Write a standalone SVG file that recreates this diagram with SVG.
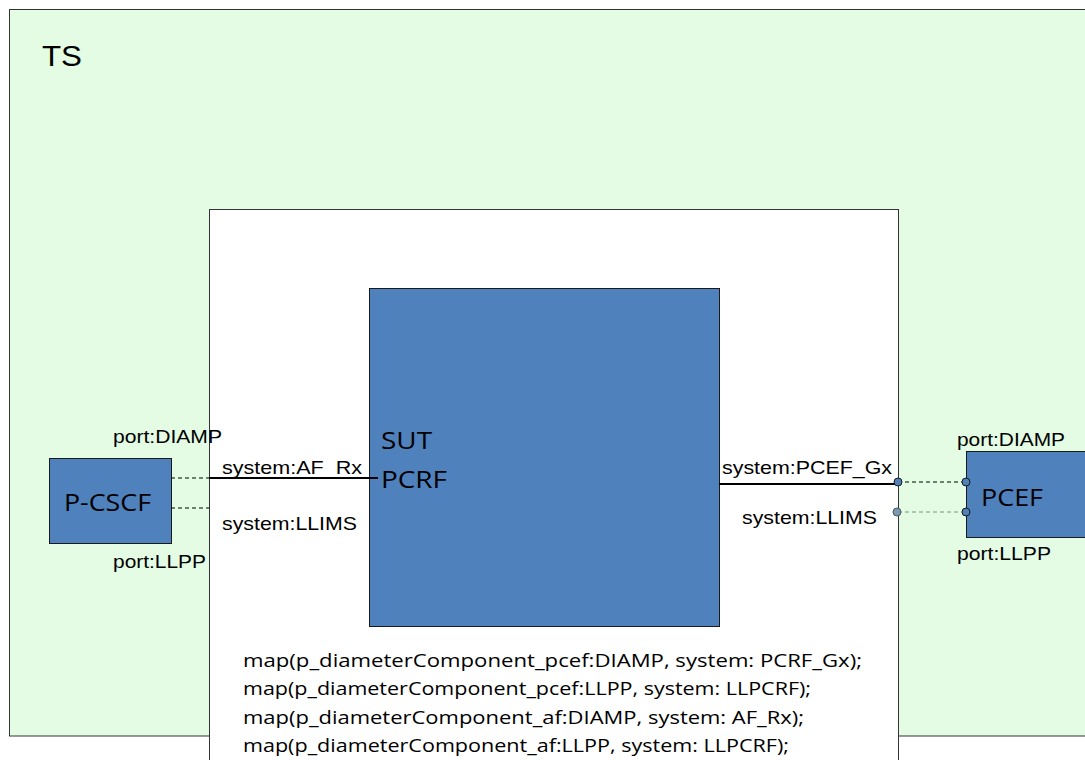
<svg xmlns="http://www.w3.org/2000/svg" width="1085" height="760" viewBox="0 0 1085 760">
<style>
.lbl{font-family:"Liberation Sans",Arial,sans-serif;font-size:19px;fill:#000}
.nm{font-family:"Open Sans","Liberation Sans",sans-serif;font-size:24px;fill:#000}
.map{font-family:"Open Sans","Liberation Sans",sans-serif;font-size:19px;fill:#000}
.blue{fill:#4F81BD;stroke:#1a1a1a;stroke-width:1}
.dash{stroke:#000;stroke-width:1;stroke-dasharray:4,3;fill:none}
.dash2{stroke:#6f9a7a;stroke-width:1;stroke-dasharray:4,3;fill:none}
.solid{stroke:#000;stroke-width:2;fill:none}
.port{fill:#4F81BD;stroke:#1a1a1a;stroke-width:1}
</style>
<rect x="0" y="0" width="1085" height="760" fill="#fff"/>
<g id="TS">
<rect x="9.5" y="9.5" width="1090" height="726.5" fill="#E3FCE3" stroke="#333" stroke-width="1"/>
<text x="42" y="66" textLength="40" lengthAdjust="spacingAndGlyphs" style="font-family:'Liberation Sans',Arial,sans-serif;font-size:29px">TS</text>
</g>
<g id="SUT-frame">
<rect x="209.5" y="209.5" width="689" height="560" fill="#fff" stroke="#333" stroke-width="1"/>
</g>
<g id="SUT-PCRF">
<rect class="blue" x="369.5" y="288.5" width="350" height="338"/>
<text class="nm" x="381" y="449" textLength="51" lengthAdjust="spacingAndGlyphs">SUT</text>
<text class="nm" x="381" y="488" textLength="66" lengthAdjust="spacingAndGlyphs">PCRF</text>
</g>
<g id="P-CSCF">
<rect class="blue" x="49.5" y="458.5" width="122" height="85"/>
<text class="nm" x="64" y="511" textLength="87" lengthAdjust="spacingAndGlyphs">P-CSCF</text>
<text class="lbl" x="113" y="443" textLength="109" lengthAdjust="spacingAndGlyphs">port:DIAMP</text>
<text class="lbl" x="113" y="568" textLength="93" lengthAdjust="spacingAndGlyphs">port:LLPP</text>
</g>
<g id="PCEF">
<rect class="blue" x="966.5" y="451.5" width="130" height="86"/>
<text class="nm" x="981" y="506" textLength="62" lengthAdjust="spacingAndGlyphs">PCEF</text>
<text class="lbl" x="957" y="446" textLength="108" lengthAdjust="spacingAndGlyphs">port:DIAMP</text>
<text class="lbl" x="957" y="560" textLength="94" lengthAdjust="spacingAndGlyphs">port:LLPP</text>
</g>
<g id="connectors">
<line class="dash" x1="171" y1="478" x2="209" y2="478"/>
<line class="dash" x1="171" y1="508" x2="209" y2="508"/>
<line class="solid" x1="209" y1="478" x2="378" y2="478"/>
<line class="solid" x1="719" y1="484" x2="898" y2="484"/>
<line class="dash" x1="898" y1="482" x2="966" y2="482"/>
<line class="dash2" x1="898" y1="512" x2="966" y2="512"/>
<circle class="port" cx="898" cy="482" r="4"/>
<circle cx="897" cy="512" r="4" fill="#7a9ab0" stroke="#556" stroke-width="1"/>
<circle class="port" cx="966" cy="482" r="4"/>
<circle class="port" cx="966" cy="512" r="4"/>
</g>
<g id="labels">
<text class="lbl" x="222" y="474" textLength="140" lengthAdjust="spacingAndGlyphs">system:AF_Rx</text>
<text class="lbl" x="222" y="530" textLength="135" lengthAdjust="spacingAndGlyphs">system:LLIMS</text>
<text class="lbl" x="722" y="474" textLength="170" lengthAdjust="spacingAndGlyphs">system:PCEF_Gx</text>
<text class="lbl" x="742" y="524" textLength="135" lengthAdjust="spacingAndGlyphs">system:LLIMS</text>
</g>
<g id="mapping">
<text class="map" x="243" y="667" textLength="619" lengthAdjust="spacingAndGlyphs">map(p_diameterComponent_pcef:DIAMP, system: PCRF_Gx);</text>
<text class="map" x="243" y="695" textLength="568" lengthAdjust="spacingAndGlyphs">map(p_diameterComponent_pcef:LLPP, system: LLPCRF);</text>
<text class="map" x="243" y="724" textLength="561" lengthAdjust="spacingAndGlyphs">map(p_diameterComponent_af:DIAMP, system: AF_Rx);</text>
<text class="map" x="243" y="752" textLength="546" lengthAdjust="spacingAndGlyphs">map(p_diameterComponent_af:LLPP, system: LLPCRF);</text>
</g>
</svg>
